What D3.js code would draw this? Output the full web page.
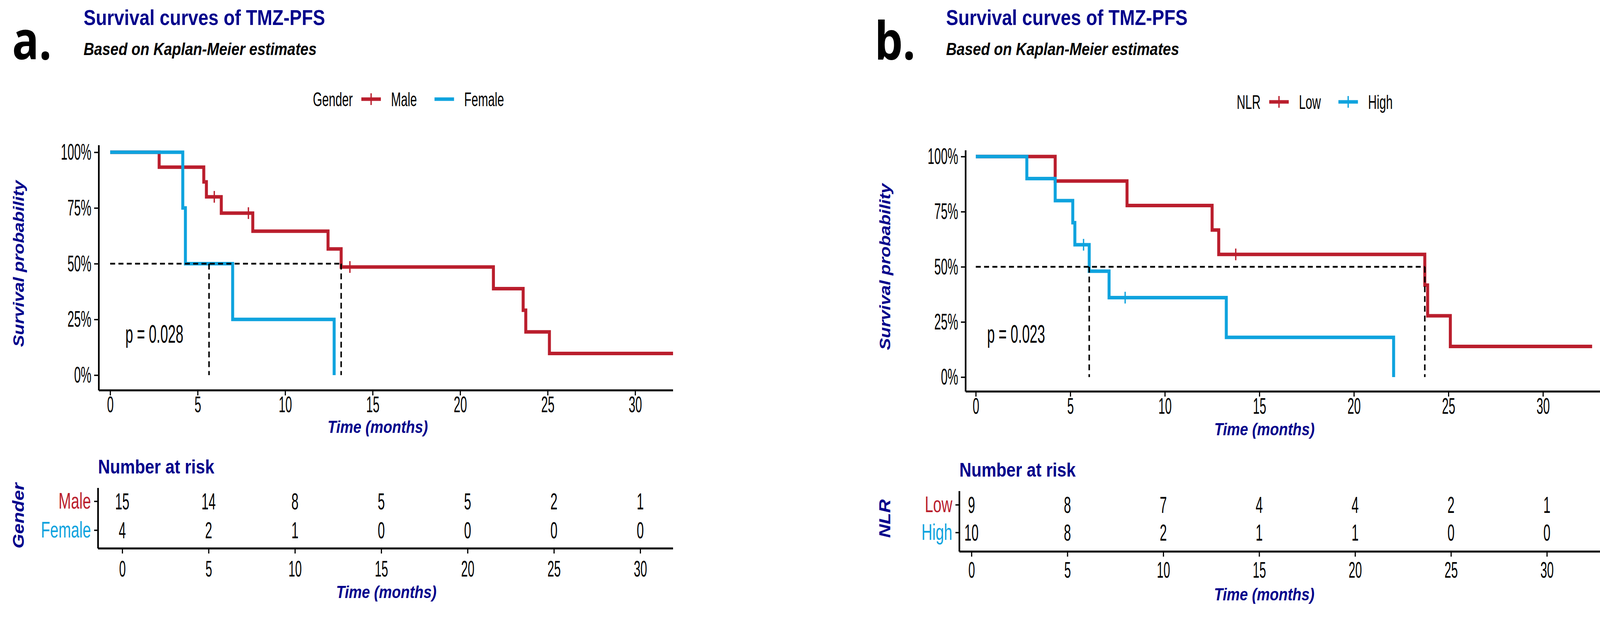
<!DOCTYPE html>
<html>
<head>
<meta charset="utf-8">
<script src="https://cdn.jsdelivr.net/npm/d3@7"></script>
<style>
body { margin: 0; background: #fff; }
</style>
</head>
<body>
<script>
// ---- data ----
var riskTimes = [0, 5, 10, 15, 20, 25, 30];
var yTicks = [0, 0.25, 0.5, 0.75, 1];

// a. Gender
var maleTime = [0, 2.8, 5.35, 5.5, 6.35, 8.15, 12.45, 13.2, 21.9, 23.6, 23.75, 25.1, 32.6];
var maleSurv = [1, 0.933, 0.867, 0.800, 0.727, 0.646, 0.566, 0.485, 0.388, 0.291, 0.194, 0.097, 0.097];
var maleCensorTime = [5.95, 7.9, 13.7];
var maleCensorSurv = [0.800, 0.727, 0.485];
var femaleTime = [0, 4.15, 4.3, 7.0, 12.8];
var femaleSurv = [1, 0.75, 0.5, 0.25, 0];
var femaleCensorTime = [];
var femaleCensorSurv = [];
var maleRisk = [15, 14, 8, 5, 5, 2, 1];
var femaleRisk = [4, 2, 1, 0, 0, 0, 0];
var genderMedians = [5.65, 13.2];

// b. NLR
var lowTime = [0, 4.2, 8.0, 12.5, 12.85, 23.75, 23.9, 25.1, 32.6];
var lowSurv = [1, 0.889, 0.778, 0.667, 0.556, 0.417, 0.278, 0.139, 0.139];
var lowCensorTime = [13.75];
var lowCensorSurv = [0.556];
var highTime = [0, 2.7, 4.2, 5.13, 5.24, 6.0, 7.05, 13.25, 22.1];
var highSurv = [1, 0.9, 0.8, 0.7, 0.6, 0.48, 0.36, 0.18, 0];
var highCensorTime = [5.7, 7.9];
var highCensorSurv = [0.6, 0.36];
var lowRisk = [9, 8, 7, 4, 4, 2, 1];
var highRisk = [10, 8, 2, 1, 1, 0, 0];
var nlrMedians = [6.0, 23.75];

// ---- setup ----
var W = 4255, H = 1637, SX = 0.85;   // whole figure is squeezed sideways
function R(v) { return v / SX; }
var RED = "#BA1E2D", BLUE = "#0FA3DE", NAVY = "#00008B";
var SANS = "'Liberation Sans', Arial, sans-serif";

var svg = d3.select("body").append("svg")
	.attr("width", W).attr("height", H)
	.attr("viewBox", "0 0 " + (W / SX) + " " + H)
	.attr("preserveAspectRatio", "none");
svg.append("rect").attr("width", W / SX).attr("height", H).attr("fill", "#fff");

var panels = [
	{ letter: "a.", letterX: 31, titleX: 214, legendTitle: "Gender", legendX: 801, legendY: 254, pText: "p = 0.028",
	  names: ["Male", "Female"], times: [maleTime, femaleTime], surv: [maleSurv, femaleSurv],
	  cTime: [maleCensorTime, femaleCensorTime], cSurv: [maleCensorSurv, femaleCensorSurv],
	  risk: [maleRisk, femaleRisk], medians: genderMedians, legendCross: [true, false],
	  axisX: 253, x0: 282, x30: 1626, xEnd: 1723, yTop: 372, y1: 390, y0: 961, xAxisY: 1000,
	  tickY: 1036, titleY: 1094, ytitleX: 47, pX: 321, pY: 856,
	  narY: 1196, tabAxisX: 251, tx0: 313, tx30: 1639, tabTop: 1250, rows: [1284, 1358], tabAxisY: 1405,
	  tabTickY: 1457, tabTitleY: 1517 },
	{ letter: "b.", letterX: 2239, titleX: 2422, legendTitle: "NLR", legendX: 3166, legendY: 261, pText: "p = 0.023",
	  names: ["Low", "High"], times: [lowTime, highTime], surv: [lowSurv, highSurv],
	  cTime: [lowCensorTime, highCensorTime], cSurv: [lowCensorSurv, highCensorSurv],
	  risk: [lowRisk, highRisk], medians: nlrMedians, legendCross: [true, true],
	  axisX: 2472, x0: 2498, x30: 3950, xEnd: 4103, yTop: 385, y1: 401, y0: 966, xAxisY: 1003,
	  tickY: 1040, titleY: 1100, ytitleX: 2265, pX: 2527, pY: 856,
	  narY: 1204, tabAxisX: 2456, tx0: 2487, tx30: 3960, tabTop: 1258, rows: [1293, 1364], tabAxisY: 1413,
	  tabTickY: 1460, tabTitleY: 1523 }
];
var colors = [RED, BLUE];

// plain (narrow) text placed at real-space x
function plain(g, xr, y, s, size, k, anchor) {
	return g.append("text")
		.attr("transform", "translate(" + R(xr) + "," + y + ") scale(" + k + ",1)")
		.attr("text-anchor", anchor || "start").attr("dy", "0.35em")
		.attr("font-family", SANS).attr("font-size", size).text(s);
}

function styleAxis(g, size) {
	g.select(".domain").remove();
	g.selectAll(".tick line").attr("stroke", "#000").attr("stroke-width", 3.5);
	g.selectAll(".tick text").attr("fill", "#000").attr("font-size", size).attr("font-family", SANS);
}

function boldItalic(g, s, size) {
	return g.append("text").text(s).attr("dy", "0.35em")
		.attr("font-family", SANS).attr("font-weight", 700).attr("font-style", "italic")
		.attr("font-size", size).attr("fill", NAVY);
}

panels.forEach(function(p, pi) {
	var g = svg.append("g");
	var x = d3.scaleLinear().domain([0, 30]).range([R(p.x0), R(p.x30)]);
	var y = d3.scaleLinear().domain([0, 1]).range([p.y0, p.y1]);
	var xMax = x.invert(R(p.xEnd));

	// headings
	g.append("text").attr("x", R(p.letterX)).attr("y", 152).text(p.letter)
		.attr("font-family", "'Open Sans', sans-serif").attr("font-weight", 700).attr("font-size", 134);
	g.append("text").attr("x", R(p.titleX)).attr("y", 64).text("Survival curves of TMZ-PFS")
		.attr("font-family", SANS).attr("font-weight", 700).attr("font-size", 55).attr("fill", NAVY);
	g.append("text").attr("x", R(p.titleX)).attr("y", 141).text("Based on Kaplan-Meier estimates")
		.attr("font-family", SANS).attr("font-weight", 700).attr("font-style", "italic").attr("font-size", 44);

	// legend
	var LK = 0.72, LF = 50;
	var lg = g.append("g");
	var cx = p.legendX;
	var t0 = plain(lg, cx, p.legendY, p.legendTitle, LF, LK);
	cx += t0.node().getComputedTextLength() * LK * SX + 22;
	p.names.forEach(function(n, i) {
		lg.append("line").attr("x1", R(cx)).attr("x2", R(cx + 50)).attr("y1", p.legendY).attr("y2", p.legendY)
			.attr("stroke", colors[i]).attr("stroke-width", 9);
		if (p.legendCross[i]) {
			lg.append("line").attr("x1", R(cx + 25)).attr("x2", R(cx + 25))
				.attr("y1", p.legendY - 15).attr("y2", p.legendY + 15)
				.attr("stroke", colors[i]).attr("stroke-width", 4);
		}
		cx += 50 + 26;
		var t = plain(lg, cx, p.legendY, n, LF, LK);
		cx += t.node().getComputedTextLength() * LK * SX + 45;
	});

	// survival plot axes
	var TK = 0.62, TF = 58;
	g.append("line").attr("x1", R(p.axisX)).attr("x2", R(p.axisX)).attr("y1", p.yTop).attr("y2", p.xAxisY)
		.attr("stroke", "#000").attr("stroke-width", 5);
	g.append("line").attr("x1", R(p.axisX)).attr("x2", R(p.xEnd)).attr("y1", p.xAxisY).attr("y2", p.xAxisY)
		.attr("stroke", "#000").attr("stroke-width", 5);
	var gx = g.append("g").attr("transform", "translate(0," + p.xAxisY + ")")
		.call(d3.axisBottom(x).tickValues(riskTimes).tickSize(13).tickSizeOuter(0));
	styleAxis(gx, TF);
	gx.selectAll(".tick text").attr("y", p.tickY - p.xAxisY).attr("dy", "0.35em").attr("transform", "scale(" + TK + ",1)");
	var ytl = R(12), ytp = R(7);
	var gy = g.append("g").attr("transform", "translate(" + R(p.axisX) + ",0)")
		.call(d3.axisLeft(y).tickValues(yTicks).tickFormat(function(d) { return Math.round(d * 100) + "%"; })
			.tickSize(ytl).tickPadding(ytp).tickSizeOuter(0));
	styleAxis(gy, TF);
	gy.selectAll(".tick text").attr("x", -(ytl + ytp) / TK).attr("transform", "scale(" + TK + ",1)");

	boldItalic(g, "Time (months)", 44).attr("text-anchor", "middle")
		.attr("x", (R(p.x0) + R(p.x30)) / 2 + R(13)).attr("y", p.titleY);
	boldItalic(g, "Survival probability", 46).attr("text-anchor", "middle")
		.attr("transform", "translate(" + R(p.ytitleX) + "," + ((p.y0 + p.y1) / 2) + ") rotate(-90)");

	// curves
	var clipId = "clip" + pi;
	svg.append("clipPath").attr("id", clipId).append("rect")
		.attr("x", R(p.axisX)).attr("y", p.yTop - 20).attr("width", R(p.xEnd) - R(p.axisX)).attr("height", p.xAxisY - p.yTop + 20);
	var cg = g.append("g").attr("clip-path", "url(#" + clipId + ")");
	var line = d3.line().curve(d3.curveStepAfter).x(function(d) { return x(d[0]); }).y(function(d) { return y(d[1]); });
	p.times.forEach(function(ts, i) {
		var pts = ts.map(function(t, k) { return [Math.min(t, xMax), p.surv[i][k]]; });
		cg.append("path").attr("d", line(pts)).attr("fill", "none")
			.attr("stroke", colors[i]).attr("stroke-width", 9);
		p.cTime[i].forEach(function(t, k) {
			var px = x(t), py = y(p.cSurv[i][k]);
			cg.append("path").attr("d", "M" + (px - R(11)) + "," + py + "H" + (px + R(11)) + "M" + px + "," + (py - 15) + "V" + (py + 15))
				.attr("stroke", colors[i]).attr("stroke-width", 4).attr("fill", "none");
		});
	});

	// median lines
	var dash = g.append("g").attr("stroke", "#000").attr("stroke-width", 4.5).attr("stroke-dasharray", "15,10").attr("fill", "none");
	dash.append("line").attr("x1", x(0)).attr("x2", x(d3.max(p.medians))).attr("y1", y(0.5)).attr("y2", y(0.5));
	p.medians.forEach(function(m) {
		dash.append("line").attr("x1", x(m)).attr("x2", x(m)).attr("y1", y(0.5)).attr("y2", y(0));
	});

	plain(g, p.pX, p.pY, p.pText, 64, 0.65);

	// risk table
	var tx = d3.scaleLinear().domain([0, 30]).range([R(p.tx0), R(p.tx30)]);
	var ty = d3.scalePoint().domain(p.names).range(p.rows);
	g.append("text").attr("x", R(p.tabAxisX)).attr("y", p.narY).attr("dy", "0.35em").text("Number at risk")
		.attr("font-family", SANS).attr("font-weight", 700).attr("font-size", 50).attr("fill", NAVY);
	g.append("line").attr("x1", R(p.tabAxisX)).attr("x2", R(p.tabAxisX)).attr("y1", p.tabTop).attr("y2", p.tabAxisY)
		.attr("stroke", "#000").attr("stroke-width", 5);
	g.append("line").attr("x1", R(p.tabAxisX)).attr("x2", R(p.xEnd)).attr("y1", p.tabAxisY).attr("y2", p.tabAxisY)
		.attr("stroke", "#000").attr("stroke-width", 5);
	var rtl = R(10), rtp = R(8), RK = 0.78;
	var tgy = g.append("g").attr("transform", "translate(" + R(p.tabAxisX) + ",0)")
		.call(d3.axisLeft(ty).tickSize(rtl).tickPadding(rtp).tickSizeOuter(0));
	styleAxis(tgy, 58);
	tgy.selectAll(".tick text").attr("fill", function(d, i) { return colors[i]; })
		.attr("x", -(rtl + rtp) / RK).attr("transform", "scale(" + RK + ",1)");
	var tgx = g.append("g").attr("transform", "translate(0," + p.tabAxisY + ")")
		.call(d3.axisBottom(tx).tickValues(riskTimes).tickSize(13).tickSizeOuter(0));
	styleAxis(tgx, TF);
	tgx.selectAll(".tick text").attr("y", p.tabTickY - p.tabAxisY).attr("dy", "0.35em").attr("transform", "scale(" + TK + ",1)");
	p.risk.forEach(function(vals, i) {
		g.selectAll(null).data(vals).enter().append("text")
			.attr("transform", function(d, k) { return "translate(" + tx(riskTimes[k]) + "," + ty(p.names[i]) + ") scale(0.64,1)"; })
			.attr("dy", "0.35em").attr("text-anchor", "middle")
			.attr("font-family", SANS).attr("font-size", 60)
			.text(function(d) { return d; });
	});
	boldItalic(g, "Time (months)", 44).attr("text-anchor", "middle")
		.attr("x", (R(p.tx0) + R(p.tx30)) / 2 + R(13)).attr("y", p.tabTitleY);
	boldItalic(g, p.legendTitle, 48).attr("text-anchor", "middle")
		.attr("transform", "translate(" + R(p.ytitleX) + "," + ((p.rows[0] + p.rows[1]) / 2) + ") rotate(-90)");
});
</script>
</body>
</html>
